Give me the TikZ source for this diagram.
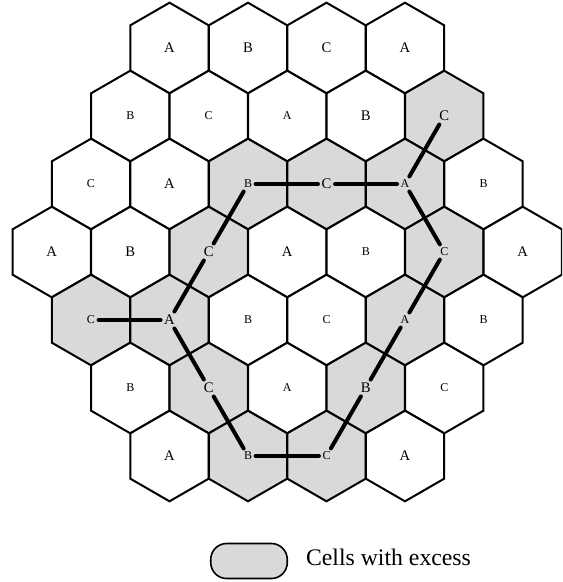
\documentclass[tikz,border=0pt]{standalone}
\usepackage{fontspec}
\setmainfont{Liberation Serif}
\usetikzlibrary{shapes.geometric,positioning}

\colorlet{excess}{black!15}

% one cell of the grid: row, column, letter, letter style, fill
\newcommand{\hexcell}[5]{%
  \pgfmathsetmacro{\hx}{51.75+39.25*abs(#1-4)+78.5*(#2-1)}%
  \pgfmathsetmacro{\hy}{48+68*(#1-1)}%
  \node[hexagon, fill=#5] (h#1#2) at (\hx,\hy) {};%
  \node[#4] (l#1#2) at (h#1#2.center) {#3};%
}

\begin{document}
\begin{tikzpicture}[
    x=0.75pt, y=-0.75pt,
    hexagon/.style={draw, regular polygon, regular polygon sides=6, shape border rotate=30, minimum size=67.95pt, inner sep=0pt, line width=1.5pt},
    bigtag/.style={font=\fontsize{11}{13}\selectfont, inner sep=2.5pt},
    smalltag/.style={font=\fontsize{9}{11}\selectfont, inner sep=2.5pt},
    link/.style={line width=3pt, line cap=round}
  ]
  \clip (0,0) rectangle (562,582);

  % row 1
  \hexcell{1}{1}{A}{bigtag}{white}
  \hexcell{1}{2}{B}{bigtag}{white}
  \hexcell{1}{3}{C}{bigtag}{white}
  \hexcell{1}{4}{A}{bigtag}{white}
  % row 2
  \hexcell{2}{1}{B}{smalltag}{white}
  \hexcell{2}{2}{C}{smalltag}{white}
  \hexcell{2}{3}{A}{smalltag}{white}
  \hexcell{2}{4}{B}{bigtag}{white}
  \hexcell{2}{5}{C}{bigtag}{excess}
  % row 3
  \hexcell{3}{1}{C}{smalltag}{white}
  \hexcell{3}{2}{A}{bigtag}{white}
  \hexcell{3}{3}{B}{smalltag}{excess}
  \hexcell{3}{4}{C}{bigtag}{excess}
  \hexcell{3}{5}{A}{smalltag}{excess}
  \hexcell{3}{6}{B}{smalltag}{white}
  % row 4
  \hexcell{4}{1}{A}{bigtag}{white}
  \hexcell{4}{2}{B}{bigtag}{white}
  \hexcell{4}{3}{C}{bigtag}{excess}
  \hexcell{4}{4}{A}{bigtag}{white}
  \hexcell{4}{5}{B}{smalltag}{white}
  \hexcell{4}{6}{C}{smalltag}{excess}
  \hexcell{4}{7}{A}{bigtag}{white}
  % row 5
  \hexcell{5}{1}{C}{smalltag}{excess}
  \hexcell{5}{2}{A}{bigtag}{excess}
  \hexcell{5}{3}{B}{smalltag}{white}
  \hexcell{5}{4}{C}{smalltag}{white}
  \hexcell{5}{5}{A}{smalltag}{excess}
  \hexcell{5}{6}{B}{smalltag}{white}
  % row 6
  \hexcell{6}{1}{B}{smalltag}{white}
  \hexcell{6}{2}{C}{bigtag}{excess}
  \hexcell{6}{3}{A}{smalltag}{white}
  \hexcell{6}{4}{B}{bigtag}{excess}
  \hexcell{6}{5}{C}{smalltag}{white}
  % row 7
  \hexcell{7}{1}{A}{bigtag}{white}
  \hexcell{7}{2}{B}{smalltag}{excess}
  \hexcell{7}{3}{C}{smalltag}{excess}
  \hexcell{7}{4}{A}{bigtag}{white}

  % links between the cells with excess
  \draw[link] (l33) -- (l34);
  \draw[link] (l34) -- (l35);
  \draw[link] (l35) -- (l25);
  \draw[link] (l35) -- (l46);
  \draw[link] (l46) -- (l55);
  \draw[link] (l55) -- (l64);
  \draw[link] (l64) -- (l73);
  \draw[link] (l73) -- (l72);
  \draw[link] (l72) -- (l62);
  \draw[link] (l62) -- (l52);
  \draw[link] (l52) -- (l51);
  \draw[link] (l52) -- (l43);
  \draw[link] (l43) -- (l33);

  % legend
  \node[draw, fill=excess, rounded corners=12pt, minimum width=57.4pt, minimum height=26.3pt, line width=1.2pt] (key) at (249,561) {};
  \node[font=\fontsize{17.8}{20}\selectfont, right=10pt of key, yshift=3pt] (keytext) {Cells with excess};
\end{tikzpicture}
\end{document}
